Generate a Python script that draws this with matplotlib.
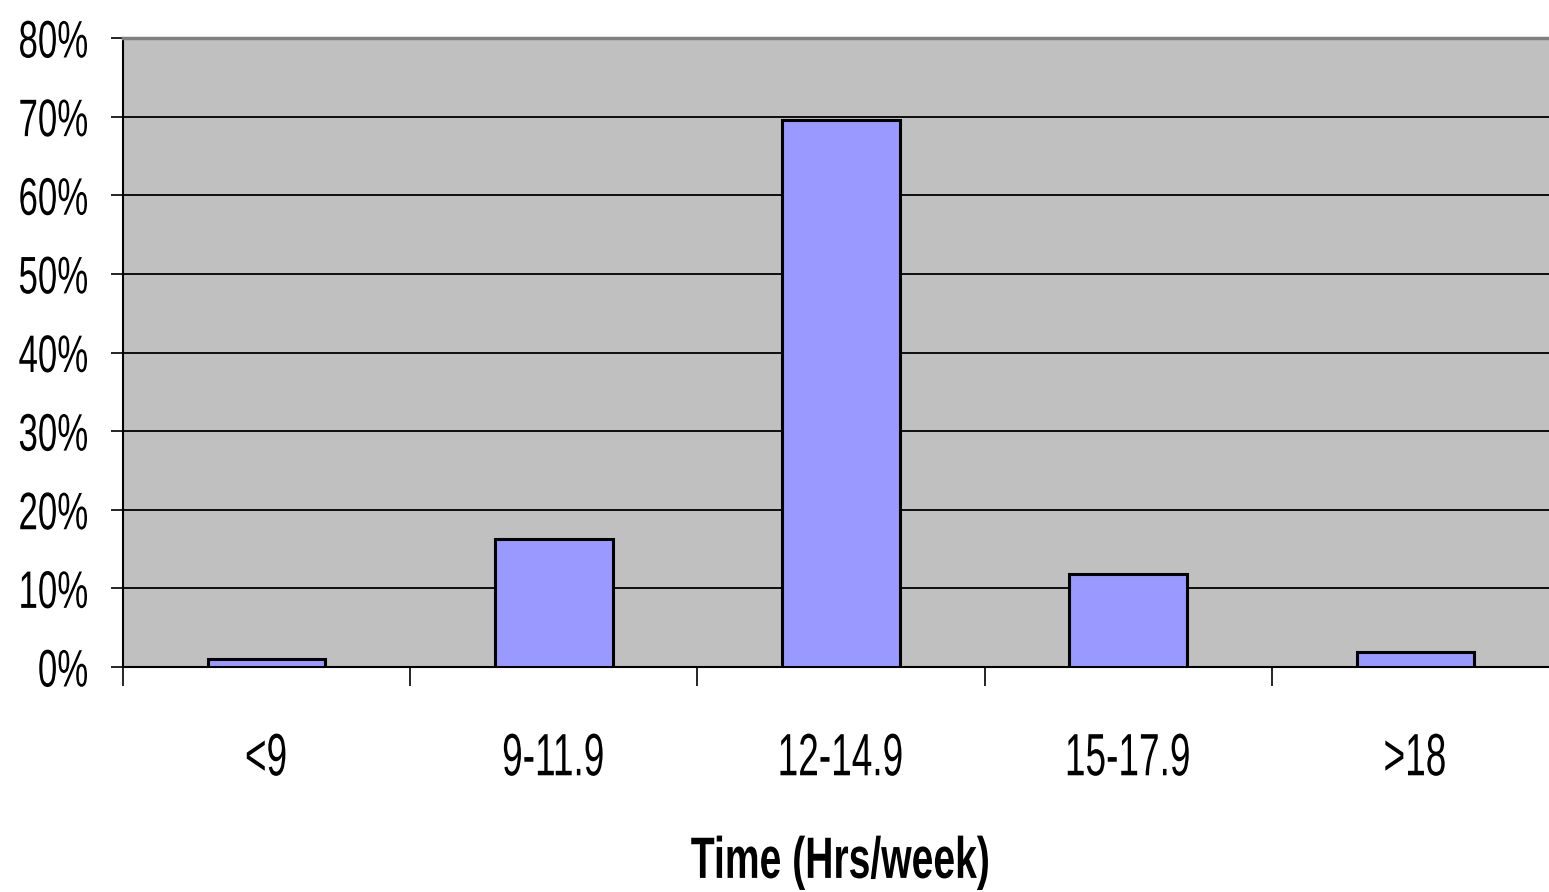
import matplotlib
matplotlib.use("Agg")
import matplotlib.pyplot as plt
from matplotlib.ticker import FixedLocator, PercentFormatter
from matplotlib.patheffects import AbstractPathEffect
from matplotlib.transforms import Affine2D

categories = ["<9", "9-11.9", "12-14.9", "15-17.9", ">18"]
values = [1.0, 16.3, 69.6, 11.8, 1.9]
yticks = [0, 10, 20, 30, 40, 50, 60, 70, 80]

plt.rcParams["font.family"] = ["Liberation Sans", "DejaVu Sans"]

DPI = 100


class Condense(AbstractPathEffect):
    """Horizontally compress text glyphs (narrow font look).

    ha='center' keeps the text centred where it was laid out;
    right_px, if given, puts the right edge of the glyphs at that pixel column.
    """

    def __init__(self, sx, ha="center", right_px=None):
        super().__init__()
        self.sx = sx
        self.ha = ha
        self.right_px = right_px

    def draw_path(self, renderer, gc, tpath, affine, rgbFace=None):
        ext = tpath.get_extents()
        w = ext.x1
        if self.right_px is not None:
            t = Affine2D().scale(self.sx, 1) + affine
            x_right = t.transform((w, 0))[0]
            t = t + Affine2D().translate(self.right_px - x_right, 0)
        else:
            shift = (1 - self.sx) * w / 2 if self.ha == "center" else 0
            t = Affine2D().scale(self.sx, 1).translate(shift, 0) + affine
        renderer.draw_path(gc, tpath, t, rgbFace)


fig = plt.figure(figsize=(15.49, 8.92), dpi=DPI)
ax = fig.add_axes([123/1549, (892-667)/892, 1436/1549, 629/892])
ax.set_facecolor("#c0c0c0")

x = list(range(len(categories)))
ax.bar(x, values, width=0.41, color="#9999ff", edgecolor="black", linewidth=2.2, zorder=3)

ax.set_xlim(-0.5, len(categories) - 0.5)
ax.set_ylim(0, 80)
ax.set_yticks(yticks)
ax.yaxis.set_major_formatter(PercentFormatter(decimals=0))
for t in yticks[1:-1]:
    ax.axhline(t, color="black", linewidth=1.3, zorder=1)

ax.set_xticks(x)
ax.set_xticklabels(categories)
ax.xaxis.set_minor_locator(FixedLocator([i - 0.5 for i in range(len(categories) + 1)]))
ax.tick_params(axis="x", which="major", length=0, pad=47, labelsize=43)
ax.tick_params(axis="x", which="minor", length=14, width=1.2, color="black")
# y labels laid out left-aligned from the figure edge; glyphs are drawn
# condensed with their right edge just left of the tick marks
ax.tick_params(axis="y", which="major", length=9, width=1.2, labelsize=38, pad=77)

for lab in ax.get_xticklabels():
    lab.set_path_effects([Condense(0.62, "center")])
for lab in ax.get_yticklabels():
    lab.set_horizontalalignment("left")
    lab.set_path_effects([Condense(0.66, right_px=87)])

for s in ["left", "bottom"]:
    ax.spines[s].set_color("black")
    ax.spines[s].set_linewidth(1.5)
ax.spines["top"].set_color("#808080")
ax.spines["top"].set_linewidth(2.5)
ax.spines["right"].set_visible(False)

xl = ax.set_xlabel("Time (Hrs/week)", fontsize=42, fontweight="bold", labelpad=35)
xl.set_path_effects([Condense(0.67, "center")])

fig.savefig("out.png", dpi=DPI)
